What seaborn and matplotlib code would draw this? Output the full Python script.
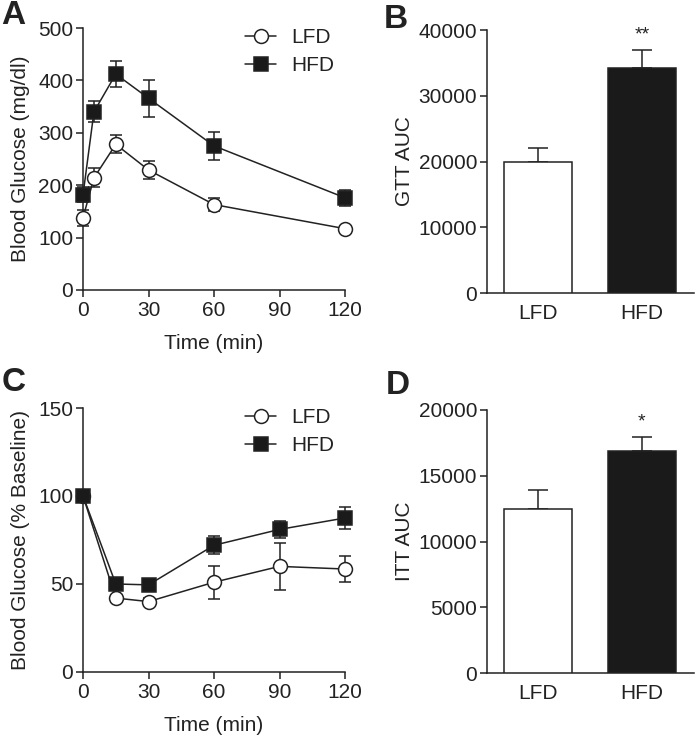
import matplotlib
matplotlib.use("Agg")
import matplotlib.pyplot as plt
import seaborn as sns
import pandas as pd
import numpy as np

# ---- data ----
gtt_time = [0, 5, 15, 30, 60, 120]
gtt_lfd = [138, 214, 278, 229, 163, 117]
gtt_lfd_err = [15, 18, 17, 18, 12, 6]
gtt_hfd = [182, 340, 412, 366, 275, 176]
gtt_hfd_err = [15, 20, 25, 35, 27, 15]

itt_time = [0, 15, 30, 60, 90, 120]
itt_lfd = [100, 42, 40, 51, 60, 58.5]
itt_lfd_err = [0, 2, 2, 9.5, 13.5, 7.5]
itt_hfd = [100, 50, 49.5, 72, 81, 87.5]
itt_hfd_err = [0, 2, 2, 5, 5, 6.5]

groups = ["LFD", "HFD"]
gtt_auc = [19900, 34200]
gtt_auc_err = [2100, 2800]
itt_auc = [12500, 16900]
itt_auc_err = [1450, 1070]

sns.set_theme(style="ticks")
plt.rcParams['font.family'] = ['Liberation Sans', 'DejaVu Sans']
TXT = '#222222'
FS = 15
plt.rcParams.update({
    'axes.edgecolor': TXT, 'axes.linewidth': 1.1,
    'xtick.color': TXT, 'ytick.color': TXT,
    'xtick.labelcolor': TXT, 'ytick.labelcolor': TXT,
    'xtick.major.width': 1.1, 'ytick.major.width': 1.1,
    'xtick.major.size': 5, 'ytick.major.size': 5,
    'xtick.major.pad': 3, 'ytick.major.pad': 2,
    'xtick.labelsize': FS, 'ytick.labelsize': FS,
    'axes.labelsize': FS, 'axes.labelcolor': TXT,
})

fig = plt.figure(figsize=(6.96, 7.39), dpi=100)
axA = fig.add_axes([0.1193, 0.6076, 0.3764, 0.3545])
axB = fig.add_axes([0.6997, 0.6035, 0.2973, 0.3559])
axC = fig.add_axes([0.1193, 0.0907, 0.3764, 0.3572])
axD = fig.add_axes([0.6997, 0.0893, 0.2973, 0.3559])


def line_panel(ax, t, lfd, lfd_e, hfd, hfd_e, ymax, ystep, ylabel):
    for y, e in [(lfd, lfd_e), (hfd, hfd_e)]:
        ax.errorbar(t, y, yerr=e, fmt='none', ecolor=TXT, elinewidth=1.1,
                    capsize=4, capthick=1.1, zorder=2, clip_on=False)
    df = pd.DataFrame({'t': t * 2, 'v': lfd + hfd,
                       'g': ['LFD'] * len(t) + ['HFD'] * len(t)})
    sns.lineplot(data=df[df.g == 'LFD'], x='t', y='v', ax=ax, color=TXT, lw=1.1,
                 marker='o', markersize=10, markerfacecolor='white',
                 markeredgecolor=TXT, markeredgewidth=1.1, label='LFD',
                 zorder=4, clip_on=False)
    sns.lineplot(data=df[df.g == 'HFD'], x='t', y='v', ax=ax, color=TXT, lw=1.1,
                 marker='s', markersize=9.5, markerfacecolor='#1a1a1a',
                 markeredgecolor=TXT, markeredgewidth=1.1, label='HFD',
                 zorder=5, clip_on=False)
    ax.set_xlim(0, 120)
    ax.set_ylim(0, ymax)
    ax.set_xticks([0, 30, 60, 90, 120])
    ax.set_yticks(np.arange(0, ymax + 1, ystep))
    ax.set_xlabel('Time (min)', labelpad=10)
    ax.set_ylabel(ylabel, labelpad=6)
    sns.despine(ax=ax)
    leg = ax.legend(loc='upper left', bbox_to_anchor=(0.62, 1.0), frameon=False,
                    fontsize=FS, handlelength=1.45, handletextpad=0.75,
                    labelspacing=0.45, borderaxespad=0.0, borderpad=0.0)
    for txt in leg.get_texts():
        txt.set_color(TXT)


line_panel(axA, gtt_time, gtt_lfd, gtt_lfd_err, gtt_hfd, gtt_hfd_err,
           500, 100, 'Blood Glucose (mg/dl)')
line_panel(axC, itt_time, itt_lfd, itt_lfd_err, itt_hfd, itt_hfd_err,
           150, 50, 'Blood Glucose (% Baseline)')


def bar_panel(ax, vals, errs, ymax, ystep, ylabel, star):
    df = pd.DataFrame({'g': groups, 'v': vals})
    sns.barplot(data=df, x='g', y='v', hue='g', palette=['white', '#1a1a1a'],
                order=groups, width=0.66, edgecolor=TXT, linewidth=1.1,
                legend=False, ax=ax, zorder=3)
    ax.errorbar([0, 1], vals, yerr=[[0, 0], errs], fmt='none', ecolor=TXT,
                elinewidth=1.1, capsize=7, capthick=1.1, zorder=2)
    ax.set_xlim(-0.49, 1.5)
    ax.set_ylim(0, ymax)
    ax.set_yticks(np.arange(0, ymax + 1, ystep))
    ax.set_xlabel('')
    ax.set_ylabel(ylabel, labelpad=3)
    ax.tick_params(axis='x', length=0, pad=8)
    sns.despine(ax=ax)
    ax.text(1, vals[1] + errs[1] + ymax * 0.025, star, ha='center', va='bottom',
            fontsize=FS - 1, color=TXT)


bar_panel(axB, gtt_auc, gtt_auc_err, 40000, 10000, 'GTT AUC', '**')
bar_panel(axD, itt_auc, itt_auc_err, 20000, 5000, 'ITT AUC', '*')

for lbl, x, y in [('A', 0.002, 1.0), ('B', 0.552, 0.995),
                  ('C', 0.002, 0.503), ('D', 0.554, 0.499)]:
    fig.text(x, y, lbl, fontsize=24, fontweight='bold', color=TXT,
             ha='left', va='top')

fig.savefig('out.png', dpi=100)
